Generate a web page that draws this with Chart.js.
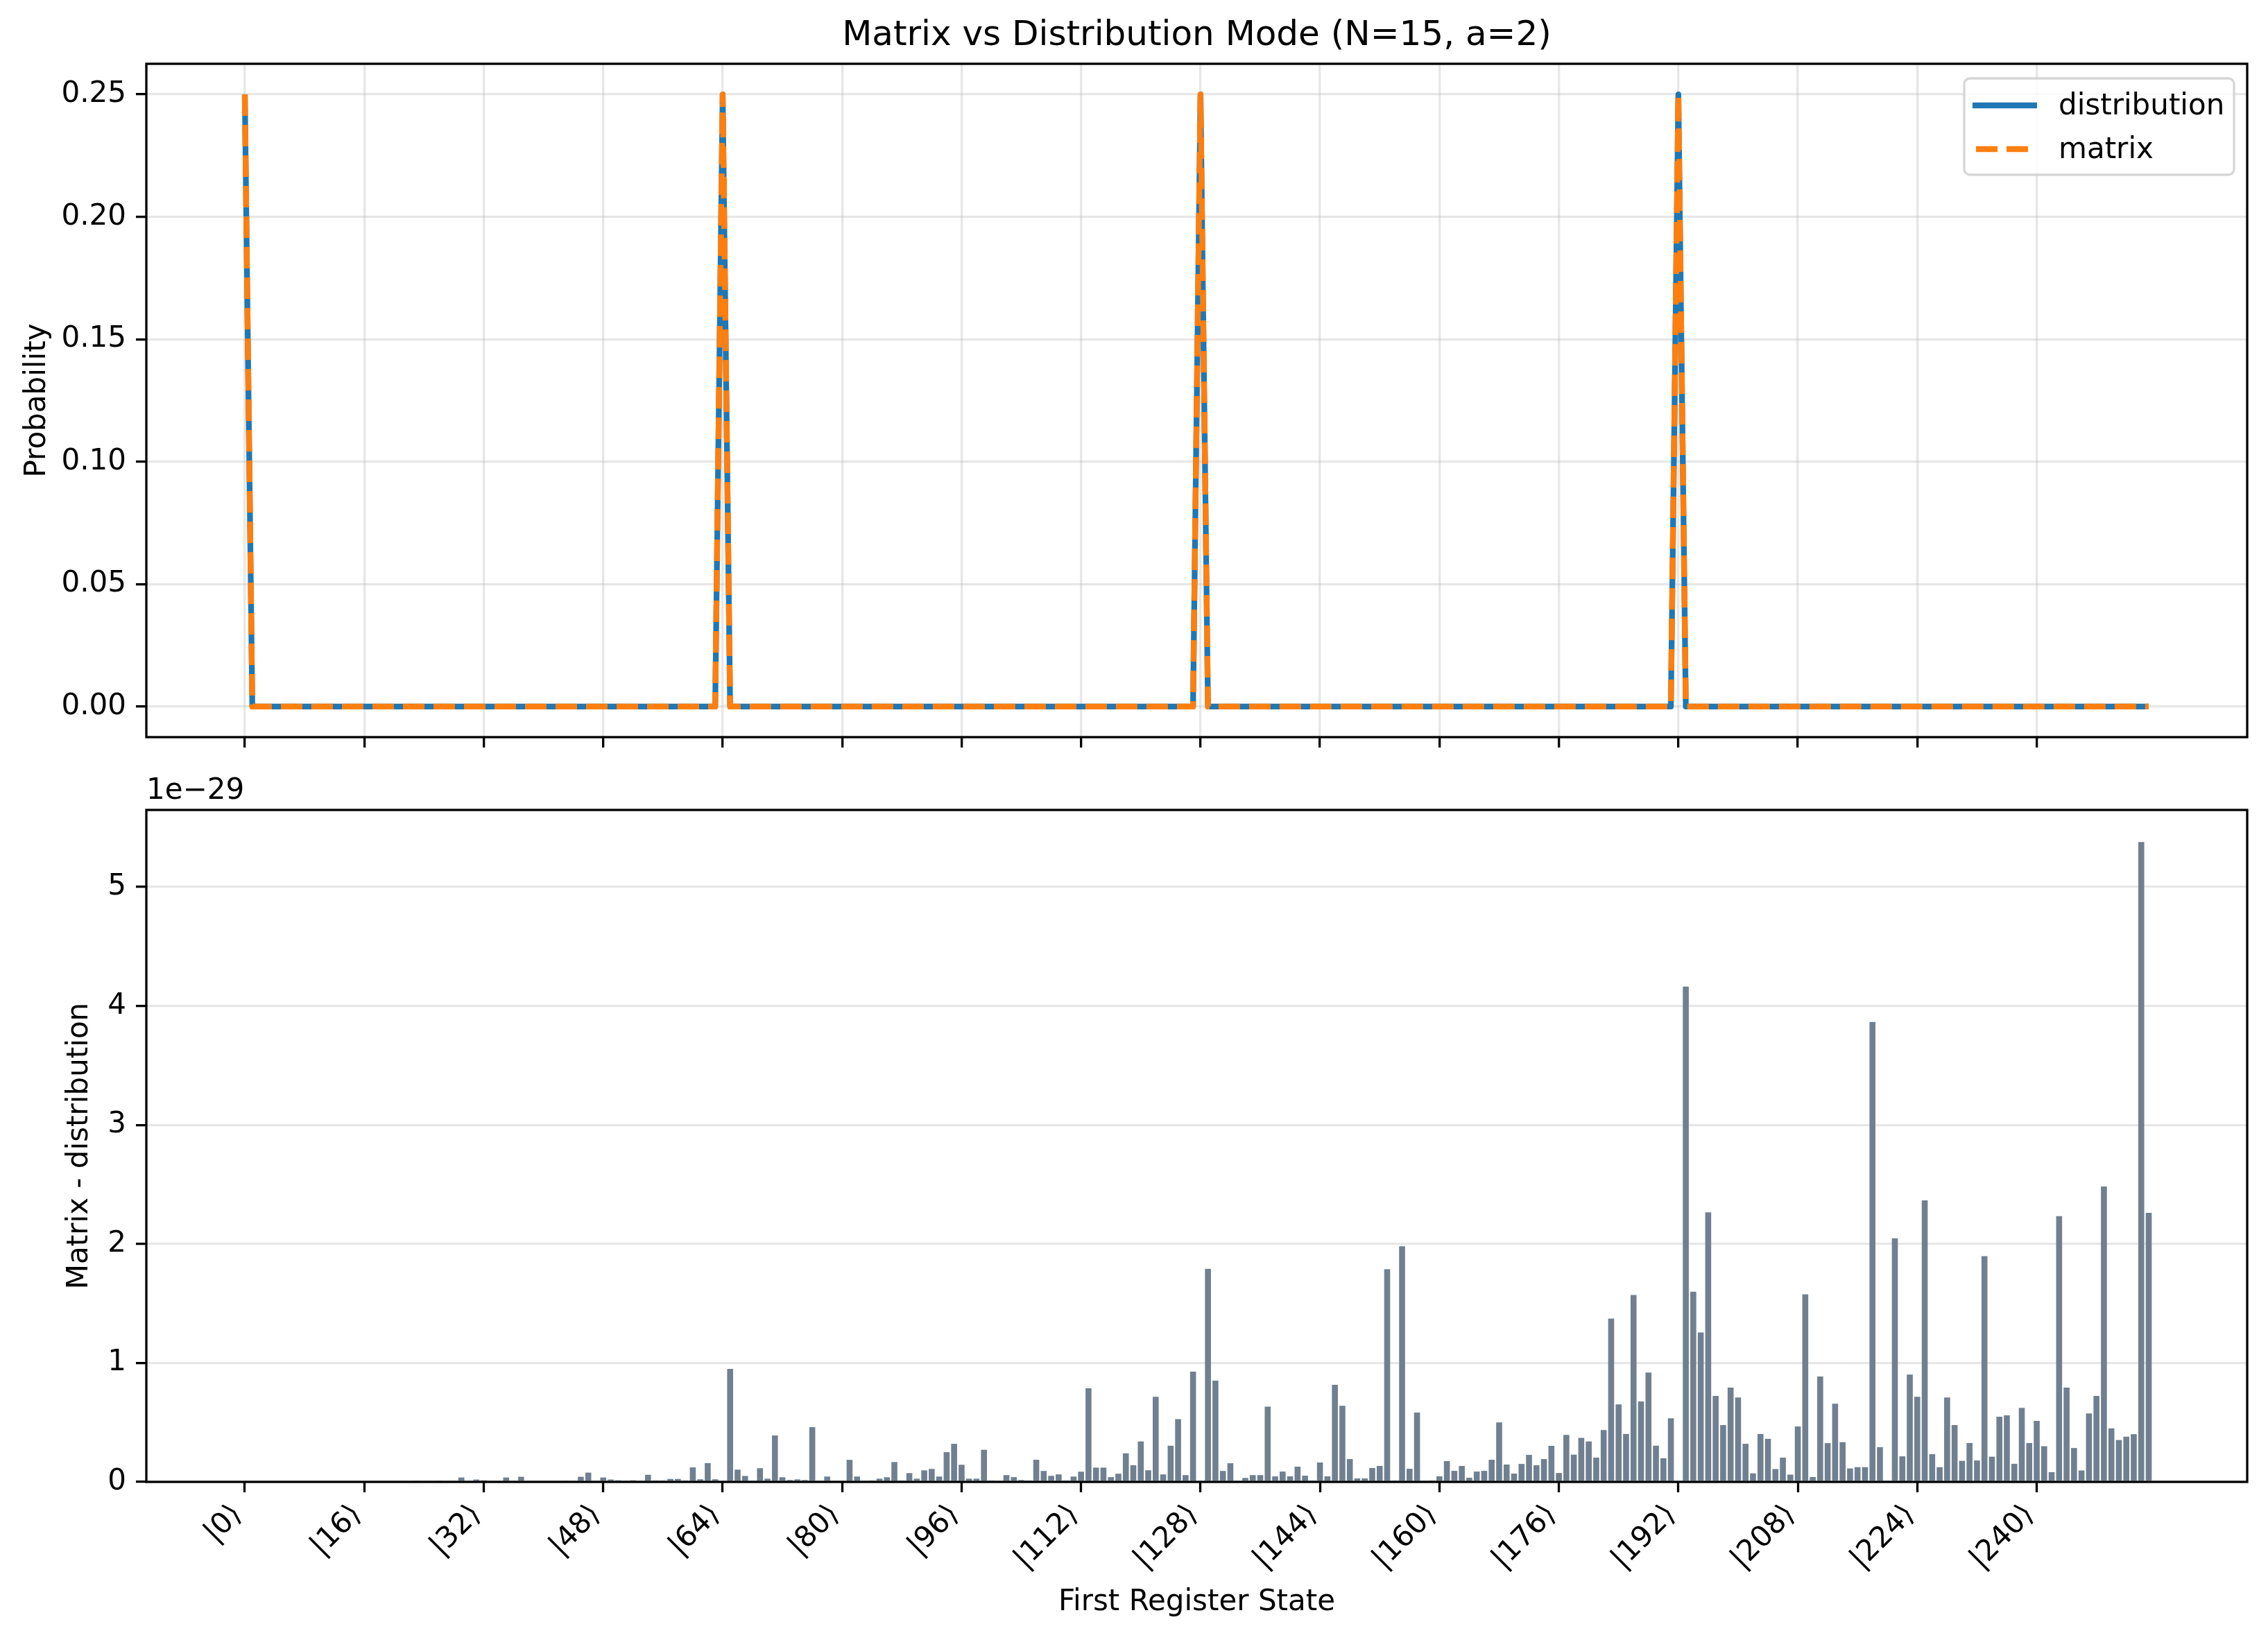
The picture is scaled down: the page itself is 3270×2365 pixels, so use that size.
<!DOCTYPE html>
<html>
<head>
<meta charset="utf-8">
<title>Matrix vs Distribution Mode</title>
<script src="https://cdn.jsdelivr.net/npm/chart.js@4.4.1/dist/chart.umd.min.js"></script>
<style>
  html, body { margin: 0; padding: 0; background: #fff; }
  #fig { position: relative; width: 3270px; height: 2365px; background: #fff; }
  canvas { position: absolute; left: 0; }
</style>
</head>
<body>
<div id="fig">
  <canvas id="probChart" width="3270" height="1110" style="top:0px"></canvas>
  <canvas id="diffChart" width="3270" height="1255" style="top:1110px"></canvas>
</div>
<script>
// First register states |0> .. |255>
const stateIndex = Array.from({ length: 256 }, (_, i) => i);

// Tick positions / labels shared by both panels
const tickStates = [0, 16, 32, 48, 64, 80, 96, 112, 128, 144, 160, 176, 192, 208, 224, 240];
const tickLabels = ["|0⟩", "|16⟩", "|32⟩", "|48⟩", "|64⟩", "|80⟩", "|96⟩", "|112⟩",
                    "|128⟩", "|144⟩", "|160⟩", "|176⟩", "|192⟩", "|208⟩", "|224⟩", "|240⟩"];

// Top panel: probabilities
const distributionProb = [
  0.25, 0, 0, 0, 0, 0, 0, 0, 0, 0, 0, 0, 0, 0, 0, 0,
  0, 0, 0, 0, 0, 0, 0, 0, 0, 0, 0, 0, 0, 0, 0, 0,
  0, 0, 0, 0, 0, 0, 0, 0, 0, 0, 0, 0, 0, 0, 0, 0,
  0, 0, 0, 0, 0, 0, 0, 0, 0, 0, 0, 0, 0, 0, 0, 0,
  0.25, 0, 0, 0, 0, 0, 0, 0, 0, 0, 0, 0, 0, 0, 0, 0,
  0, 0, 0, 0, 0, 0, 0, 0, 0, 0, 0, 0, 0, 0, 0, 0,
  0, 0, 0, 0, 0, 0, 0, 0, 0, 0, 0, 0, 0, 0, 0, 0,
  0, 0, 0, 0, 0, 0, 0, 0, 0, 0, 0, 0, 0, 0, 0, 0,
  0.25, 0, 0, 0, 0, 0, 0, 0, 0, 0, 0, 0, 0, 0, 0, 0,
  0, 0, 0, 0, 0, 0, 0, 0, 0, 0, 0, 0, 0, 0, 0, 0,
  0, 0, 0, 0, 0, 0, 0, 0, 0, 0, 0, 0, 0, 0, 0, 0,
  0, 0, 0, 0, 0, 0, 0, 0, 0, 0, 0, 0, 0, 0, 0, 0,
  0.25, 0, 0, 0, 0, 0, 0, 0, 0, 0, 0, 0, 0, 0, 0, 0,
  0, 0, 0, 0, 0, 0, 0, 0, 0, 0, 0, 0, 0, 0, 0, 0,
  0, 0, 0, 0, 0, 0, 0, 0, 0, 0, 0, 0, 0, 0, 0, 0,
  0, 0, 0, 0, 0, 0, 0, 0, 0, 0, 0, 0, 0, 0, 0, 0
];
const matrixProb = [
  0.25, 0, 0, 0, 0, 0, 0, 0, 0, 0, 0, 0, 0, 0, 0, 0,
  0, 0, 0, 0, 0, 0, 0, 0, 0, 0, 0, 0, 0, 0, 0, 0,
  0, 0, 0, 0, 0, 0, 0, 0, 0, 0, 0, 0, 0, 0, 0, 0,
  0, 0, 0, 0, 0, 0, 0, 0, 0, 0, 0, 0, 0, 0, 0, 0,
  0.25, 0, 0, 0, 0, 0, 0, 0, 0, 0, 0, 0, 0, 0, 0, 0,
  0, 0, 0, 0, 0, 0, 0, 0, 0, 0, 0, 0, 0, 0, 0, 0,
  0, 0, 0, 0, 0, 0, 0, 0, 0, 0, 0, 0, 0, 0, 0, 0,
  0, 0, 0, 0, 0, 0, 0, 0, 0, 0, 0, 0, 0, 0, 0, 0,
  0.25, 0, 0, 0, 0, 0, 0, 0, 0, 0, 0, 0, 0, 0, 0, 0,
  0, 0, 0, 0, 0, 0, 0, 0, 0, 0, 0, 0, 0, 0, 0, 0,
  0, 0, 0, 0, 0, 0, 0, 0, 0, 0, 0, 0, 0, 0, 0, 0,
  0, 0, 0, 0, 0, 0, 0, 0, 0, 0, 0, 0, 0, 0, 0, 0,
  0.25, 0, 0, 0, 0, 0, 0, 0, 0, 0, 0, 0, 0, 0, 0, 0,
  0, 0, 0, 0, 0, 0, 0, 0, 0, 0, 0, 0, 0, 0, 0, 0,
  0, 0, 0, 0, 0, 0, 0, 0, 0, 0, 0, 0, 0, 0, 0, 0,
  0, 0, 0, 0, 0, 0, 0, 0, 0, 0, 0, 0, 0, 0, 0, 0
];
const probTicks = [0, 0.05, 0.10, 0.15, 0.20, 0.25];

// Bottom panel: matrix - distribution, in units of 1e-29
const diffE29 = [
  0, 0, 0, 0, 0, 0, 0, 0, 0, 0, 0, 0, 0, 0, 0, 0,
  0, 0, 0, 0, 0, 0, 0, 0.008, 0, 0, 0.008, 0, 0, 0.037, 0, 0.02,
  0.014, 0, 0, 0.037, 0, 0.043, 0, 0, 0, 0, 0, 0.008, 0, 0.043, 0.078, 0,
  0.037, 0.02, 0.014, 0.008, 0.014, 0, 0.06, 0.004, 0.004, 0.025, 0.025, 0.004, 0.122, 0.022, 0.158, 0.022,
  0, 0.95, 0.103, 0.05, 0, 0.115, 0.027, 0.39, 0.039, 0.016, 0.021, 0.016, 0.46, 0, 0.045, 0.01,
  0.01, 0.185, 0.045, 0.01, 0.004, 0.027, 0.039, 0.167, 0.004, 0.074, 0.027, 0.097, 0.109, 0.045, 0.25, 0.32,
  0.144, 0.027, 0.027, 0.27, 0.004, 0.01, 0.057, 0.04, 0.016, 0.004, 0.186, 0.092, 0.051, 0.063, 0.004, 0.045,
  0.086, 0.786, 0.12, 0.12, 0.04, 0.069, 0.24, 0.14, 0.34, 0.098, 0.716, 0.063, 0.304, 0.527, 0.057, 0.927,
  0, 1.79, 0.851, 0.092, 0.157, 0.01, 0.033, 0.057, 0.057, 0.633, 0.046, 0.087, 0.047, 0.128, 0.052, 0.012,
  0.163, 0.047, 0.816, 0.64, 0.192, 0.029, 0.029, 0.117, 0.134, 1.788, 0.012, 1.98, 0.11, 0.583, 0, 0.004,
  0.047, 0.175, 0.093, 0.134, 0.035, 0.087, 0.093, 0.186, 0.5, 0.146, 0.07, 0.151, 0.227, 0.14, 0.192, 0.303,
  0.075, 0.395, 0.229, 0.37, 0.34, 0.204, 0.436, 1.372, 0.651, 0.403, 1.57, 0.676, 0.919, 0.304, 0.199, 0.535,
  0, 4.162, 1.598, 1.256, 2.266, 0.723, 0.478, 0.792, 0.709, 0.32, 0.072, 0.403, 0.362, 0.108, 0.204, 0.061,
  0.466, 1.576, 0.041, 0.886, 0.326, 0.657, 0.334, 0.113, 0.124, 0.124, 3.865, 0.292, 0.01, 2.047, 0.215, 0.902,
  0.716, 2.366, 0.233, 0.124, 0.709, 0.478, 0.177, 0.327, 0.18, 1.897, 0.212, 0.548, 0.559, 0.152, 0.622, 0.327,
  0.513, 0.3, 0.082, 2.233, 0.793, 0.285, 0.096, 0.576, 0.723, 2.482, 0.45, 0.352, 0.38, 0.401, 5.378, 2.261
];
const diffTicks = [0, 1, 2, 3, 4, 5];

// matplotlib-like look
const FONT = "DejaVu Sans";
const GRID = "rgba(176,176,176,0.3)";
const LW = 3.3;
// shared x limits: bars span -0.4..255.4, plus 5% margins
const X_MIN = -13.19;
const X_MAX = 268.19;

function setTicks(values) {
    return scale => { scale.ticks = values.map(v => ({ value: v })); };
}

// black box around the axes
const framePlugin = {
    id: "frame",
    afterDraw(chart) {
        const { ctx, chartArea: a } = chart;
        ctx.save();
        ctx.strokeStyle = "#000";
        ctx.lineWidth = LW;
        ctx.strokeRect(a.left, a.top, a.right - a.left, a.bottom - a.top);
        ctx.restore();
    }
};

// figure title centred over the axes
const titlePlugin = {
    id: "figTitle",
    afterDraw(chart) {
        const { ctx, chartArea: a } = chart;
        ctx.save();
        ctx.fillStyle = "#000";
        ctx.font = "50px '" + FONT + "'";
        ctx.textAlign = "center";
        ctx.textBaseline = "middle";
        ctx.fillText("Matrix vs Distribution Mode (N=15, a=2)", (a.left + a.right) / 2, 52);
        ctx.restore();
    }
};

// legend box in the upper right corner
const legendPlugin = {
    id: "mplLegend",
    afterDraw(chart) {
        const { ctx, chartArea: a } = chart;
        const w = 389, h = 139;
        const x = a.right - 19 - w, y = a.top + 21;
        ctx.save();
        ctx.beginPath();
        ctx.roundRect(x, y, w, h, 8);
        ctx.fillStyle = "rgba(255,255,255,0.8)";
        ctx.fill();
        ctx.strokeStyle = "rgba(204,204,204,0.8)";
        ctx.lineWidth = LW;
        ctx.stroke();
        chart.data.datasets.forEach((ds, i) => {
            const cy = y + 39 + i * 63;
            ctx.beginPath();
            ctx.setLineDash(ds.borderDash || []);
            ctx.lineDashOffset = ds.borderDash ? -5 : 0;
            ctx.lineCap = "butt";
            ctx.lineWidth = ds.borderWidth;
            ctx.strokeStyle = ds.borderColor;
            ctx.moveTo(x + 12, cy);
            ctx.lineTo(x + 105, cy);
            ctx.stroke();
            ctx.setLineDash([]);
            ctx.fillStyle = "#000";
            ctx.font = "42px '" + FONT + "'";
            ctx.textBaseline = "middle";
            ctx.textAlign = "left";
            ctx.fillText(ds.label, x + 136, cy + 2);
        });
        ctx.restore();
    }
};

// "1e-29" offset text above the lower axes
const offsetTextPlugin = {
    id: "offsetText",
    afterDraw(chart) {
        const { ctx, chartArea: a } = chart;
        ctx.save();
        ctx.fillStyle = "#000";
        ctx.font = "42px '" + FONT + "'";
        ctx.textAlign = "left";
        ctx.textBaseline = "alphabetic";
        ctx.fillText("1e\u221229", a.left, a.top - 16);
        ctx.restore();
    }
};

// Top panel
new Chart(document.getElementById("probChart").getContext("2d"), {
    type: "line",
    data: {
        datasets: [{
            label: "distribution",
            data: stateIndex.map((s, i) => ({ x: s, y: distributionProb[i] })),
            borderColor: "#1f77b4",
            borderWidth: 8.3,
            pointRadius: 0,
            tension: 0,
            borderJoinStyle: "round",
            order: 2
        }, {
            label: "matrix",
            data: stateIndex.map((s, i) => ({ x: s, y: matrixProb[i] })),
            borderColor: "#ff7f0e",
            borderWidth: 8.3,
            borderDash: [31, 13],
            pointRadius: 0,
            tension: 0,
            borderJoinStyle: "round",
            order: 1
        }]
    },
    options: {
        responsive: false,
        animation: false,
        devicePixelRatio: 1,
        layout: { padding: { left: 0, right: 30, top: 92, bottom: 0 } },
        plugins: { legend: { display: false }, tooltip: { enabled: false }, title: { display: false } },
        scales: {
            x: {
                type: "linear",
                min: X_MIN,
                max: X_MAX,
                afterBuildTicks: setTicks(tickStates),
                afterFit: scale => { scale.height = 47; },
                ticks: { display: false },
                grid: { color: GRID, lineWidth: LW, tickColor: "#000", tickWidth: LW, tickLength: 15 },
                border: { display: false }
            },
            y: {
                type: "linear",
                min: -0.0125,
                max: 0.2625,
                afterBuildTicks: setTicks(probTicks),
                afterFit: scale => { scale.width = 211; },
                ticks: {
                    callback: v => v.toFixed(2),
                    font: { family: FONT, size: 42 },
                    color: "#000",
                    padding: 14
                },
                grid: { color: GRID, lineWidth: LW, tickColor: "#000", tickWidth: LW, tickLength: 15 },
                border: { display: false },
                title: {
                    display: true,
                    text: "Probability",
                    font: { family: FONT, size: 42 },
                    color: "#000",
                    padding: { top: 29, bottom: 0 }
                }
            }
        }
    },
    plugins: [framePlugin, titlePlugin, legendPlugin]
});

// Bottom panel
new Chart(document.getElementById("diffChart").getContext("2d"), {
    type: "bar",
    data: {
        datasets: [{
            label: "Matrix - distribution",
            data: stateIndex.map((s, i) => ({ x: s, y: diffE29[i] })),
            backgroundColor: "#708090",
            borderWidth: 0,
            barPercentage: 0.8,
            categoryPercentage: 1.0
        }]
    },
    options: {
        responsive: false,
        animation: false,
        devicePixelRatio: 1,
        layout: { padding: { left: 0, right: 30, top: 58, bottom: 0 } },
        plugins: { legend: { display: false }, tooltip: { enabled: false } },
        scales: {
            x: {
                type: "linear",
                min: X_MIN,
                max: X_MAX,
                offset: false,
                afterBuildTicks: setTicks(tickStates),
                afterFit: scale => { scale.height = 228; },
                ticks: {
                    autoSkip: false,
                    minRotation: 45,
                    maxRotation: 45,
                    padding: 8,
                    labelOffset: -10,
                    callback: (v, idx) => tickLabels[idx],
                    font: { family: FONT, size: 42 },
                    color: "#000"
                },
                grid: { drawOnChartArea: false, offset: false, tickColor: "#000", tickWidth: LW, tickLength: 15 },
                border: { display: false },
                title: {
                    display: true,
                    text: "First Register State",
                    font: { family: FONT, size: 42 },
                    color: "#000",
                    padding: { top: 0, bottom: 29 }
                }
            },
            y: {
                type: "linear",
                min: 0,
                max: Math.max(...diffE29) * 1.05,
                z: 1,
                afterBuildTicks: setTicks(diffTicks),
                afterFit: scale => { scale.width = 211; },
                ticks: {
                    callback: v => String(v),
                    font: { family: FONT, size: 42 },
                    color: "#000",
                    padding: 14
                },
                grid: { color: GRID, lineWidth: LW, tickColor: "#000", tickWidth: LW, tickLength: 15 },
                border: { display: false },
                title: {
                    display: true,
                    text: "Matrix - distribution",
                    font: { family: FONT, size: 42 },
                    color: "#000",
                    padding: { top: 90, bottom: 0 }
                }
            }
        }
    },
    plugins: [framePlugin, offsetTextPlugin]
});
</script>
</body>
</html>
